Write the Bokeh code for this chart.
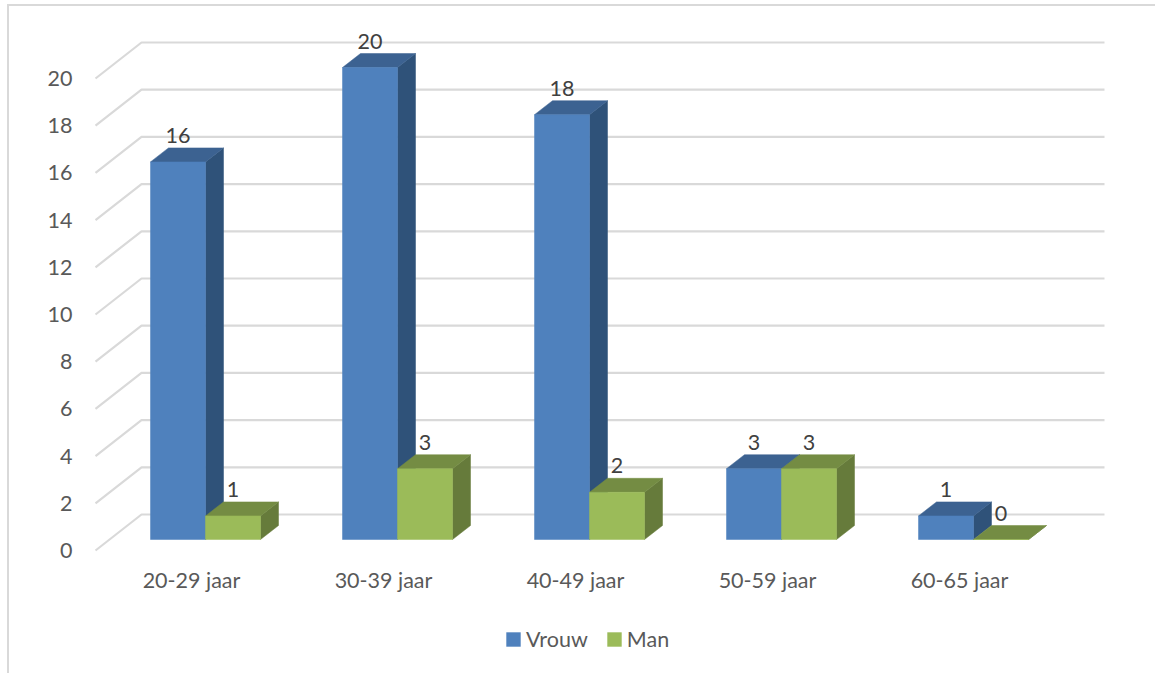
from bokeh.embed import file_html
from bokeh.layouts import column
from bokeh.models import (ColumnDataSource, FixedTicker, Legend, LegendItem,
                          LinearAxis, Range1d)
from bokeh.plotting import figure
from bokeh.resources import INLINE
from bokeh.core.properties import value

# Respondents per age group
categories = ["20-29 jaar", "30-39 jaar", "40-49 jaar", "50-59 jaar", "60-65 jaar"]
vrouw = [16, 20, 18, 3, 1]
man = [1, 3, 2, 3, 0]
y_ticks = list(range(0, 21, 2))

# Layout of the page and of the oblique 3D projection, in pixels
W, H = 1155, 673
CHART_H = 610
FRAME_L, FRAME_B = 80, 560
CAT_PX, UNIT_PX = 192.0, 23.6
CAT0_PX, BASE_PX = 191.0, 539.0
BAR_PX, SPLIT_PX = 55.0, 14.0
DEPTH_X_PX, DEPTH_Y_PX = 18.0, 14.0
FONT = "Lato"
FONT_SIZE = "21.5px"
VROUW_COLORS = ("#4f81bd", "#3c6291", "#2f5279")
MAN_COLORS = ("#9bbb59", "#748c43", "#667b3b")

to_x = lambda px: (px - CAT0_PX) / CAT_PX
to_y = lambda py, base=BASE_PX: (base - py) / UNIT_PX

p = figure(width=W, height=CHART_H, output_backend="svg", toolbar_location=None,
           x_range=Range1d(to_x(FRAME_L), to_x(W)),
           y_range=Range1d(to_y(FRAME_B), to_y(0)),
           min_border_left=FRAME_L, min_border_right=0, min_border_top=0,
           min_border_bottom=CHART_H - FRAME_B, outline_line_color=None,
           x_axis_location=None, y_axis_location=None,
           background_fill_color=None, border_fill_color=None)
p.grid.visible = False

# Value axis labels sit on the front edge of the floor, below the bar baseline
TICK_OFFSET_PX = 11.0
p.extra_y_ranges["ticks"] = Range1d(to_y(FRAME_B, BASE_PX + TICK_OFFSET_PX), to_y(0, BASE_PX + TICK_OFFSET_PX))
yaxis = LinearAxis(y_range_name="ticks", ticker=FixedTicker(ticks=y_ticks))
xaxis = LinearAxis(ticker=FixedTicker(ticks=list(range(len(categories)))),
                   major_label_overrides={i: c for i, c in enumerate(categories)})
for ax in (xaxis, yaxis):
    ax.axis_line_color = None
    ax.major_tick_line_color = None
    ax.minor_tick_line_color = None
    ax.major_tick_in = 0
    ax.major_tick_out = 0
    ax.major_label_text_color = "#595959"
    ax.major_label_text_font = FONT
    ax.major_label_text_font_size = FONT_SIZE
yaxis.major_label_standoff = 8
xaxis.major_label_standoff = 6
p.add_layout(yaxis, "left")
p.add_layout(xaxis, "below")

# Gridlines: a diagonal across the side wall, then along the back wall
WALL_LEFT, GRID_LEFT, GRID_RIGHT = 141.0, 95.0, 1104.0
WALL_RISE = 25.0 / UNIT_PX
xs_grid = [[to_x(GRID_LEFT), to_x(WALL_LEFT), to_x(GRID_RIGHT)] for _ in y_ticks]
ys_grid = [[t - TICK_OFFSET_PX / UNIT_PX, t + WALL_RISE, t + WALL_RISE] for t in y_ticks]
p.multi_line(xs_grid, ys_grid, line_color="#d9d9d9", line_width=2.2)

dx, dy = DEPTH_X_PX / CAT_PX, DEPTH_Y_PX / UNIT_PX
w = BAR_PX / CAT_PX
shift = SPLIT_PX / CAT_PX


def draw_series(values, left_of, colors):
    front, top, side = colors
    lefts = [left_of(i) for i in range(len(values))]
    rights = [l + w for l in lefts]
    p.patches([[r, r + dx, r + dx, r] for r in rights],
              [[0, dy, v + dy, v] for v in values],
              fill_color=side, line_color=side, line_width=0.5)
    p.patches([[l, l + dx, r + dx, r] for l, r in zip(lefts, rights)],
              [[v, v + dy, v + dy, v] for v in values],
              fill_color=top, line_color=top, line_width=0.5)
    src = ColumnDataSource(dict(left=lefts, right=rights, bottom=[0] * len(values), top=values))
    p.quad(left="left", right="right", bottom="bottom", top="top", source=src,
           fill_color=front, line_color=front, line_width=0.5)
    p.text([(l + r) / 2 for l, r in zip(lefts, rights)],
           [v + dy + 12.5 / UNIT_PX for v in values],
           text=[str(v) for v in values], text_align="center", text_baseline="middle",
           text_color="#404040", text_font=value(FONT), text_font_size=FONT_SIZE)


draw_series(vrouw, lambda i: i + shift - w, VROUW_COLORS)
draw_series(man, lambda i: i + shift, MAN_COLORS)

# The legend has its own strip under the chart; its keys hold no plotted data
strip_h = H - CHART_H
strip = figure(width=W, height=strip_h, output_backend="svg", toolbar_location=None,
               x_range=Range1d(0, W), y_range=Range1d(0, strip_h),
               min_border=0, outline_line_color=None,
               x_axis_location=None, y_axis_location=None,
               background_fill_color=None, border_fill_color=None)
strip.grid.visible = False
nan = float("nan")
key_v = strip.quad(left=[nan], right=[nan], bottom=[nan], top=[nan],
                   fill_color=VROUW_COLORS[0], line_color=None)
key_m = strip.quad(left=[nan], right=[nan], bottom=[nan], top=[nan],
                   fill_color=MAN_COLORS[0], line_color=None)
legend = Legend(items=[LegendItem(label="Vrouw", renderers=[key_v]),
                       LegendItem(label="Man", renderers=[key_m])],
                orientation="horizontal", location=(424, 21),
                border_line_color=None, background_fill_alpha=0, margin=0, padding=0,
                glyph_width=18, glyph_height=18, label_standoff=4, spacing=17,
                label_text_font=FONT, label_text_font_size=FONT_SIZE, label_text_color="#595959")
strip.add_layout(legend)

# Chart area border: open at the bottom and on the right, painted behind both canvases
page = column(p, strip, spacing=0, width=W, height=H)
page.styles = {"background":
               "linear-gradient(#d9d9d9,#d9d9d9) 7px 4px/2px 100% no-repeat,"
               "linear-gradient(#d9d9d9,#d9d9d9) 7px 4px/100% 2px no-repeat,#ffffff"}

open("out.html", "w").write(file_html(page, INLINE))
